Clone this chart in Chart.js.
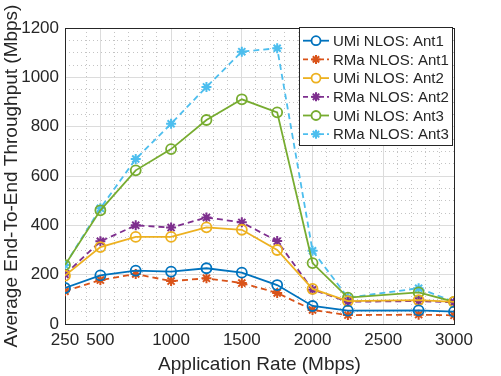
<!DOCTYPE html>
<html>
<head>
<meta charset="utf-8">
<script src="https://cdn.jsdelivr.net/npm/chart.js@4/dist/chart.umd.min.js"></script>
<style>
  html, body { margin: 0; padding: 0; background: #fff; }
</style>
</head>
<body>
<canvas id="chart" width="501" height="376"></canvas>
<script>
// application rates (Mbps)
const rates = [250, 500, 750, 1000, 1250, 1500, 1750, 2000, 2250, 2750, 3000];
const xTicks = [250, 500, 1000, 1500, 2000, 2500, 3000];
const yTicks = [0, 200, 400, 600, 800, 1000, 1200];

const labels = ['UMi NLOS: Ant1', 'RMa NLOS: Ant1', 'UMi NLOS: Ant2', 'RMa NLOS: Ant2', 'UMi NLOS: Ant3', 'RMa NLOS: Ant3'];
const umiAnt1 = [146, 197, 216, 212, 226, 208, 158, 73, 54, 55, 50];
const rmaAnt1 = [133, 178, 203, 174, 185, 166, 126, 57, 36, 38, 35];
const umiAnt2 = [196, 312, 353, 353, 392, 382, 300, 142, 93, 97, 90];
const rmaAnt2 = [201, 335, 400, 391, 432, 412, 336, 139, 90, 93, 88];
const umiAnt3 = [239, 461, 623, 709, 827, 911, 858, 247, 107, 128, 90];
const rmaAnt3 = [239, 469, 669, 812, 961, 1104, 1118, 297, 107, 145, 90];

const colors = ['#0072BD', '#D95319', '#EDB120', '#7E2F8E', '#77AC30', '#4DBEEE'];
const series = [umiAnt1, rmaAnt1, umiAnt2, rmaAnt2, umiAnt3, rmaAnt3];

const FONT = 'Liberation Sans, Arial, Helvetica, sans-serif';
const TXT = '#262626';

const datasets = series.map((vals, i) => {
  const umi = i % 2 === 0;
  return {
    label: labels[i],
    data: vals.map((v, j) => ({ x: rates[j], y: v })),
    borderColor: colors[i],
    backgroundColor: 'rgba(0,0,0,0)',
    borderWidth: 1.8,
    borderDash: umi ? [] : [6, 4],
    pointStyle: umi ? 'circle' : 'star',
    pointRadius: 5,
    pointBorderWidth: umi ? 1.8 : 2,
    pointBorderColor: colors[i],
    pointBackgroundColor: 'rgba(0,0,0,0)',
    tension: 0
  };
});

// legend drawn inside the axes, MATLAB style
const boxLegend = {
  id: 'boxLegend',
  afterDraw(chart) {
    const ctx = chart.ctx;
    const x0 = 299, y0 = 27, w = 153, h = 118;
    ctx.save();
    ctx.fillStyle = '#fff';
    ctx.fillRect(x0, y0, w, h);
    ctx.strokeStyle = '#262626';
    ctx.lineWidth = 1;
    ctx.strokeRect(x0 + 0.5, y0 + 0.5, w, h);
    ctx.font = '15px ' + FONT;
    ctx.textBaseline = 'middle';
    ctx.textAlign = 'left';
    chart.data.datasets.forEach((ds, i) => {
      const cy = 40.7 + i * 18.7;
      ctx.strokeStyle = ds.borderColor;
      ctx.lineWidth = ds.borderWidth;
      ctx.setLineDash(ds.borderDash.length ? [5, 3] : []);
      ctx.beginPath();
      ctx.moveTo(303, cy);
      ctx.lineTo(329, cy);
      ctx.stroke();
      ctx.setLineDash([]);
      ctx.fillStyle = '#fff';
      ctx.lineWidth = ds.pointBorderWidth;
      Chart.helpers.drawPoint(ctx, {
        pointStyle: ds.pointStyle, radius: 4.5, rotation: 0,
        borderWidth: ds.pointBorderWidth
      }, 316, cy);
      ctx.fillStyle = TXT;
      ctx.fillText(ds.label, 333, cy + 1);
    });
    ctx.restore();
  }
};

const plain = v => String(v);

new Chart(document.getElementById('chart'), {
  type: 'line',
  data: { datasets },
  plugins: [boxLegend],
  options: {
    responsive: false,
    animation: false,
    layout: { padding: { top: 28, right: 47, left: 0, bottom: 0 } },
    plugins: { legend: { display: false }, tooltip: { enabled: false } },
    scales: {
      xMinor: {
        type: 'linear', position: 'bottom', min: 250, max: 3000,
        ticks: { display: false, stepSize: 100 },
        grid: { color: '#c4c4c4', lineWidth: 1, drawTicks: false },
        border: { display: false, dash: [1, 3] },
        afterFit(s) { s.height = 0; }
      },
      yMinor: {
        type: 'linear', position: 'left', min: 0, max: 1200,
        ticks: { display: false, stepSize: 50 },
        grid: { color: '#c4c4c4', lineWidth: 1, drawTicks: false },
        border: { display: false, dash: [1, 3] },
        afterFit(s) { s.width = 0; }
      },
      x: {
        type: 'linear', position: 'bottom', min: 250, max: 3000,
        afterBuildTicks(s) { s.ticks = xTicks.map(v => ({ value: v })); },
        afterFit(s) { s.height = 52; },
        ticks: { color: TXT, font: { family: FONT, size: 17 }, padding: 6, maxRotation: 0, autoSkip: false, callback: plain },
        grid: { color: '#dcdcdc', drawTicks: false },
        border: { color: TXT, width: 1 },
        title: { display: true, text: 'Application Rate (Mbps)', color: TXT, font: { family: FONT, size: 19 }, padding: { top: 0, bottom: 0 } }
      },
      y: {
        type: 'linear', position: 'left', min: 0, max: 1200,
        afterBuildTicks(s) { s.ticks = yTicks.map(v => ({ value: v })); },
        afterFit(s) { s.width = 65; },
        ticks: { color: TXT, font: { family: FONT, size: 17 }, padding: 6, callback: plain },
        grid: { color: '#dcdcdc', drawTicks: false },
        border: { color: TXT, width: 1 },
        title: { display: true, text: 'Average End-To-End Throughput (Mbps)', color: TXT, font: { family: FONT, size: 19 }, padding: { top: 0, bottom: 0 } }
      },
      xTop: {
        type: 'linear', position: 'top', min: 250, max: 3000,
        ticks: { display: false }, grid: { display: false },
        border: { color: TXT, width: 1 },
        afterFit(s) { s.height = 0; }
      },
      yRight: {
        type: 'linear', position: 'right', min: 0, max: 1200,
        ticks: { display: false }, grid: { display: false },
        border: { color: TXT, width: 1 },
        afterFit(s) { s.width = 0; }
      }
    }
  }
});
</script>
</body>
</html>
